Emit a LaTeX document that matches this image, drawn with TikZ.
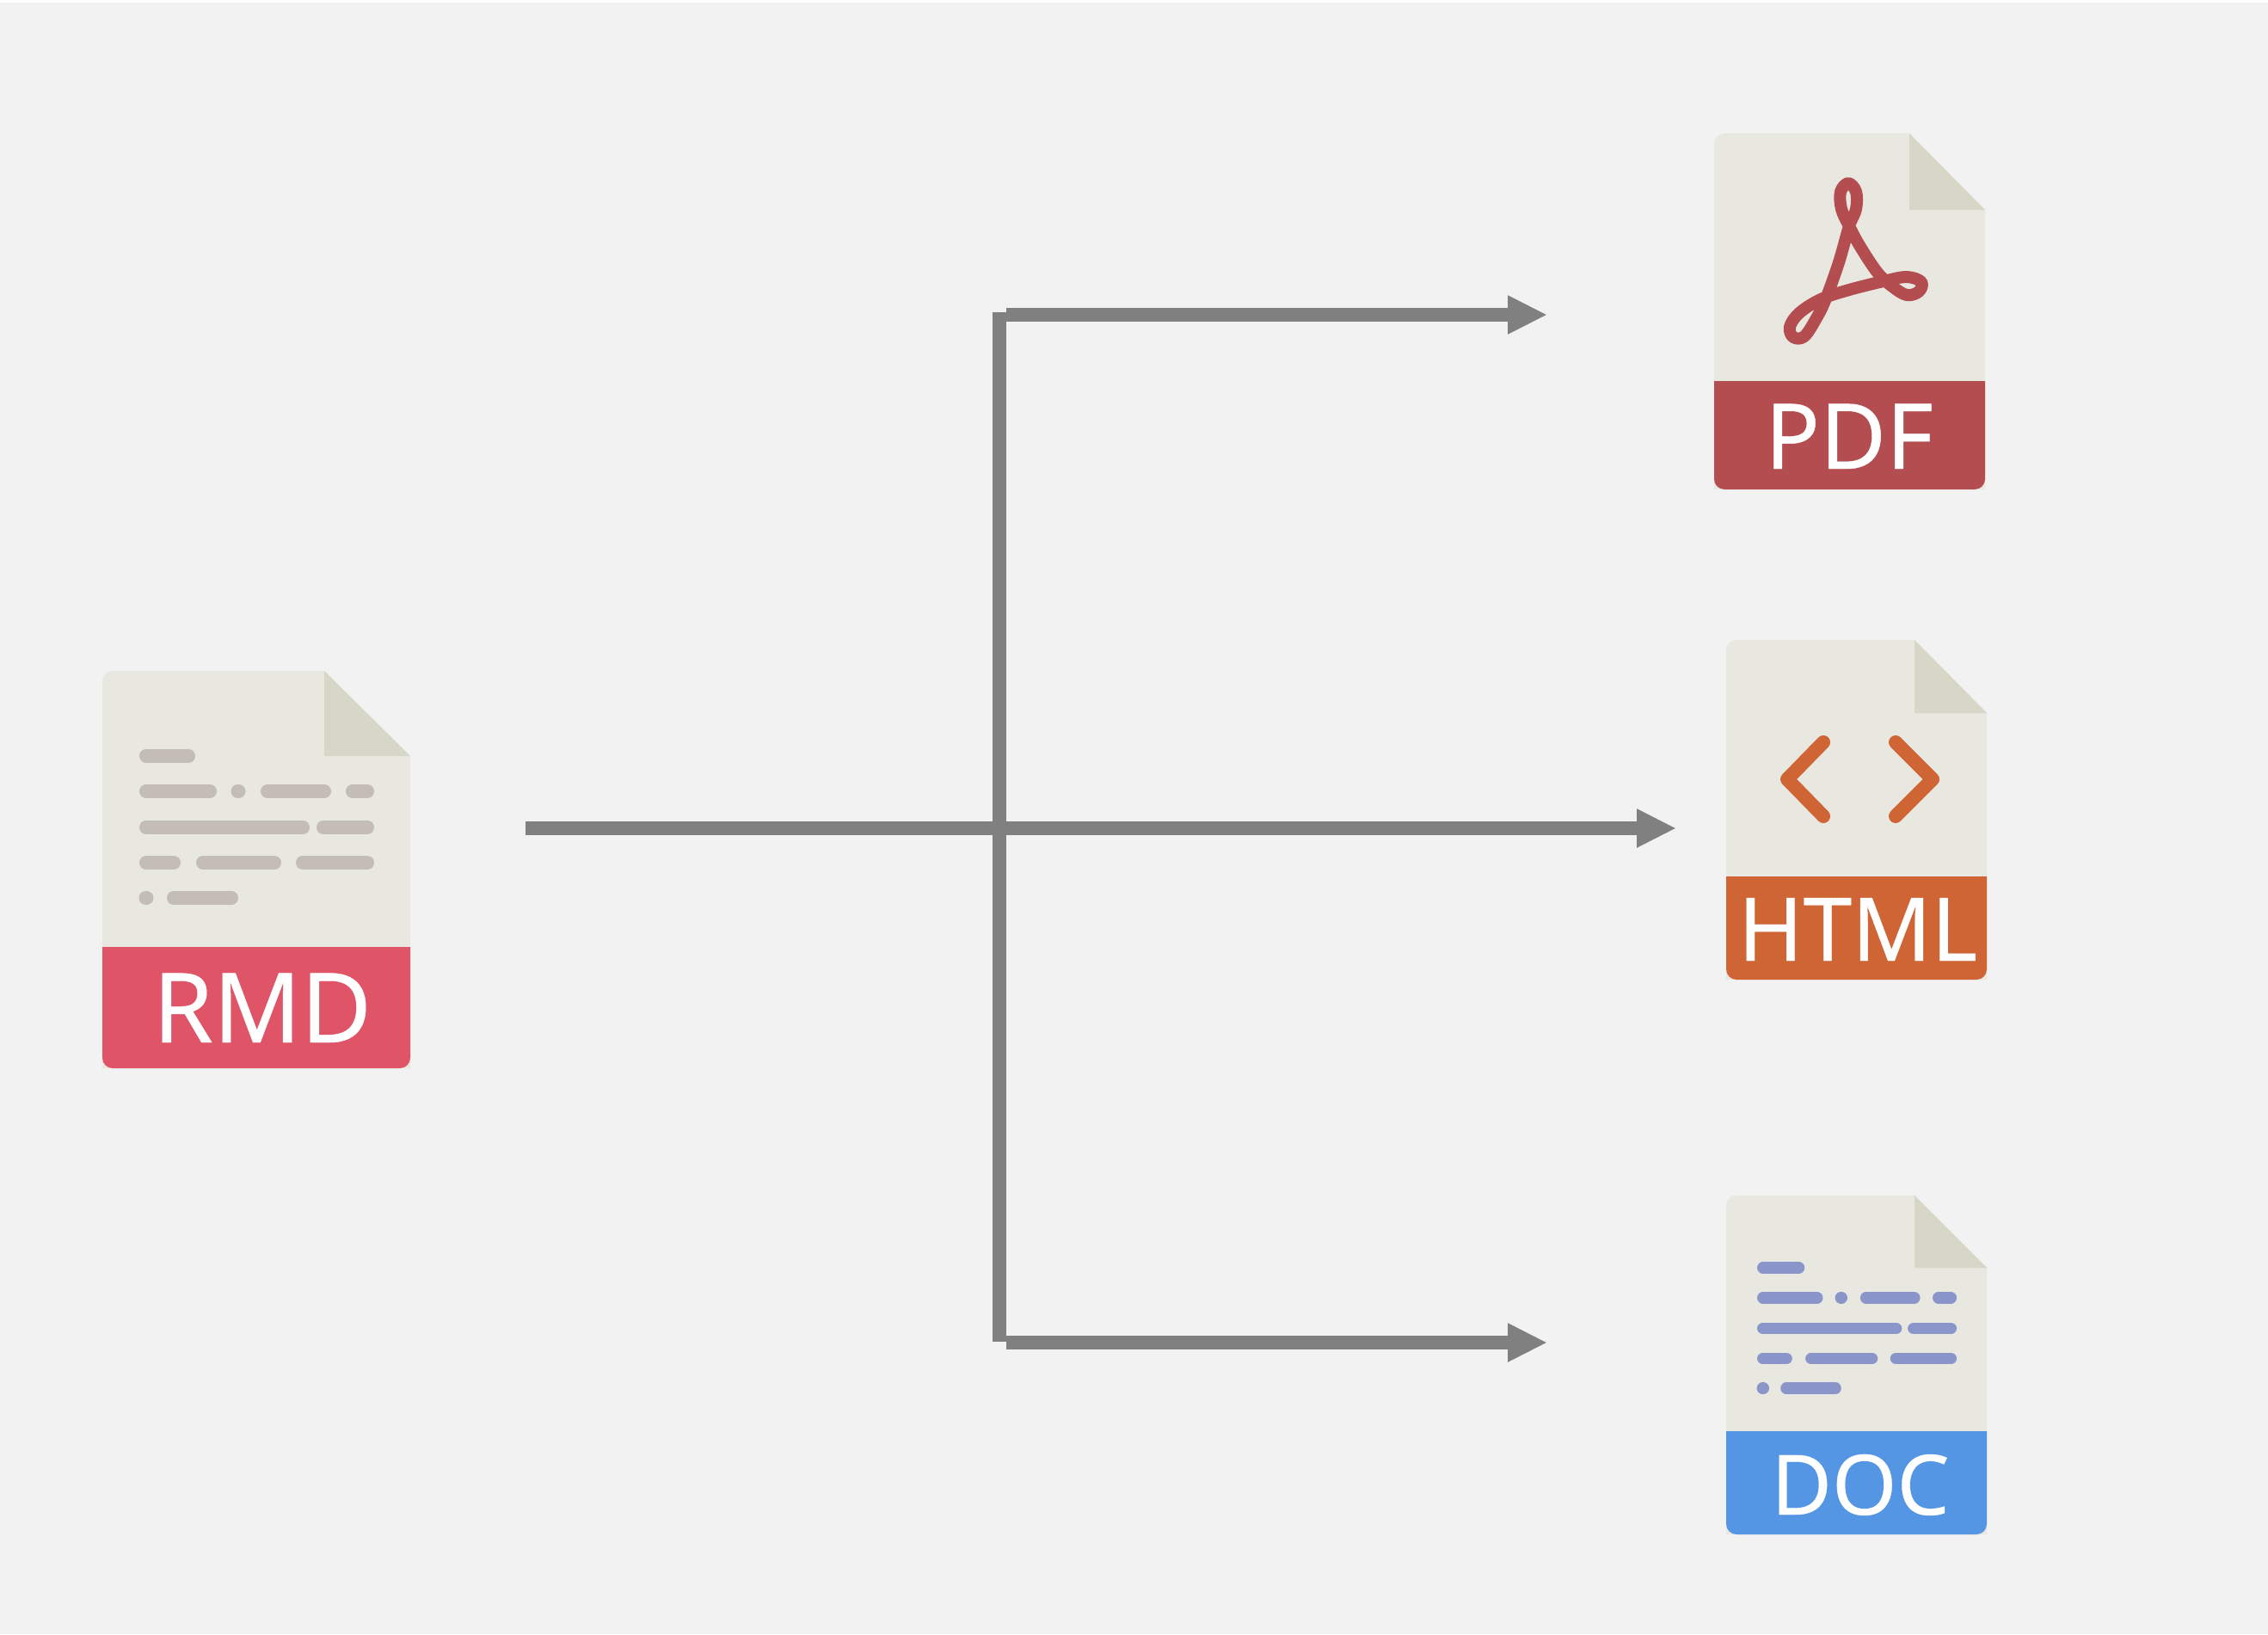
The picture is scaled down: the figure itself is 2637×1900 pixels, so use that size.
\documentclass[tikz,border=0pt]{standalone}
\usepackage{fontspec}
\setmainfont{Noto Sans}[FakeBold=0.4]
\usetikzlibrary{arrows.meta}

\definecolor{backcol}{HTML}{F2F2F2}
\definecolor{pagecol}{HTML}{E8E8E0}
\definecolor{foldcol}{HTML}{D7D7C8}
\definecolor{linecol}{HTML}{808080}
\definecolor{rmdcol}{HTML}{DF5567}
\definecolor{pdfcol}{HTML}{B34D4F}
\definecolor{htmlcol}{HTML}{CF6535}
\definecolor{doccol}{HTML}{5496E4}
\definecolor{rmdbar}{HTML}{C4BCB7}
\definecolor{docbar}{HTML}{8A96C9}

\tikzset{
  filelabel/.style={text=white, anchor=base, inner sep=0pt},
  connector/.style={draw=linecol, line width=0.155cm},
  arrowline/.style={connector, -{Triangle[length=0.46cm,width=0.42cm]}},
  glyph/.style={line cap=round, line join=round}
}

% left, top, right, bottom, band top, fold x, fold y, colour
\newcommand{\filepage}[8]{
  \fill[pagecol] (#1,#4) [rounded corners=0.12cm] -- (#1,#2) [sharp corners] -- (#6,#2) -- (#3,#7) -- (#3,#4) -- cycle;
  \fill[foldcol] (#6,#2) -- (#3,#7) -- (#6,#7) -- cycle;
  \fill[#8] (#1,#5) [rounded corners=0.12cm] -- (#1,#4) -- (#3,#4) [sharp corners] -- (#3,#5) -- cycle;
}

% x, y, scale, colour
\newcommand{\textlines}[4]{
  \begin{scope}[shift={(#1,#2)}, scale=#3, draw=#4, glyph, line width=#3*0.16cm]
    \foreach \xa/\xb/\ya in {8/57/0, 8/82/41, 114.5/115.5/41, 149/215/41, 248/265/41,
        8/190/83, 214/265/83, 8/40/124, 74/157/124, 190/265/124, 7.5/8.5/165, 40/107/165}
      \draw (\xa,\ya) -- (\xb,\ya);
  \end{scope}
}

\begin{document}
\begin{tikzpicture}[x=0.01cm, y=-0.01cm]
  \useasboundingbox (0,0) rectangle (2637,1900);
  \fill[backcol] (0,3) rectangle (2637,1900);

  % Files
  \filepage{119}{780}{477}{1242}{1101}{377}{879}{rmdcol}
  \textlines{162}{879}{1}{rmdbar}
  \node[filelabel, font=\fontsize{32}{36}\selectfont] (rmd) at (305,1212) {RMD};

  \filepage{1993}{155}{2308}{569}{443}{2220}{244}{pdfcol}
  \draw[pdfcol, glyph, line width=0.14cm] plot[smooth cycle, tension=0.6] coordinates {
    (2150,263) (2138,305) (2123,347) (2113,368) (2098,391) (2085,392) (2081,380) (2092,364)
    (2117,348) (2150,337) (2190,327) (2217,322) (2234,328) (2231,339) (2217,343) (2200,333)
    (2183,317) (2163,287) (2150,263) (2141,243) (2140,223) (2149,213) (2158,223) (2158,243)};
  \node[filelabel, font=\fontsize{30}{34}\selectfont] (pdf) at (2150,545) {PDF};

  \filepage{2007}{744}{2310}{1139}{1019}{2226}{829}{htmlcol}
  \draw[htmlcol, glyph, line width=0.16cm] (2120,863) -- (2078,906) -- (2120,949);
  \draw[htmlcol, glyph, line width=0.16cm] (2204,863) -- (2247,906) -- (2204,949);
  \node[filelabel, font=\fontsize{29}{33}\selectfont] (html) at (2160,1117) {HTML};

  \filepage{2007}{1390}{2310}{1784}{1664}{2226}{1474}{doccol}
  \textlines{2043}{1474}{0.85}{docbar}
  \node[filelabel, font=\fontsize{27.5}{33}\selectfont] (doc) at (2163,1761) {DOC};

  % Connectors
  \coordinate (source) at (611,963);
  \coordinate (htmlin) at (1949,963);
  \coordinate (branchtop) at (1162,363);
  \coordinate (branchbot) at (1162,1560);
  \coordinate (pdfout) at (1170,366);
  \coordinate (pdfin) at (1799,366);
  \coordinate (docout) at (1170,1561);
  \coordinate (docin) at (1799,1561);

  \draw[connector] (branchtop) -- (branchbot);
  \draw[arrowline] (source) -- (htmlin);
  \draw[arrowline] (pdfout) -- (pdfin);
  \draw[arrowline] (docout) -- (docin);
\end{tikzpicture}
\end{document}
